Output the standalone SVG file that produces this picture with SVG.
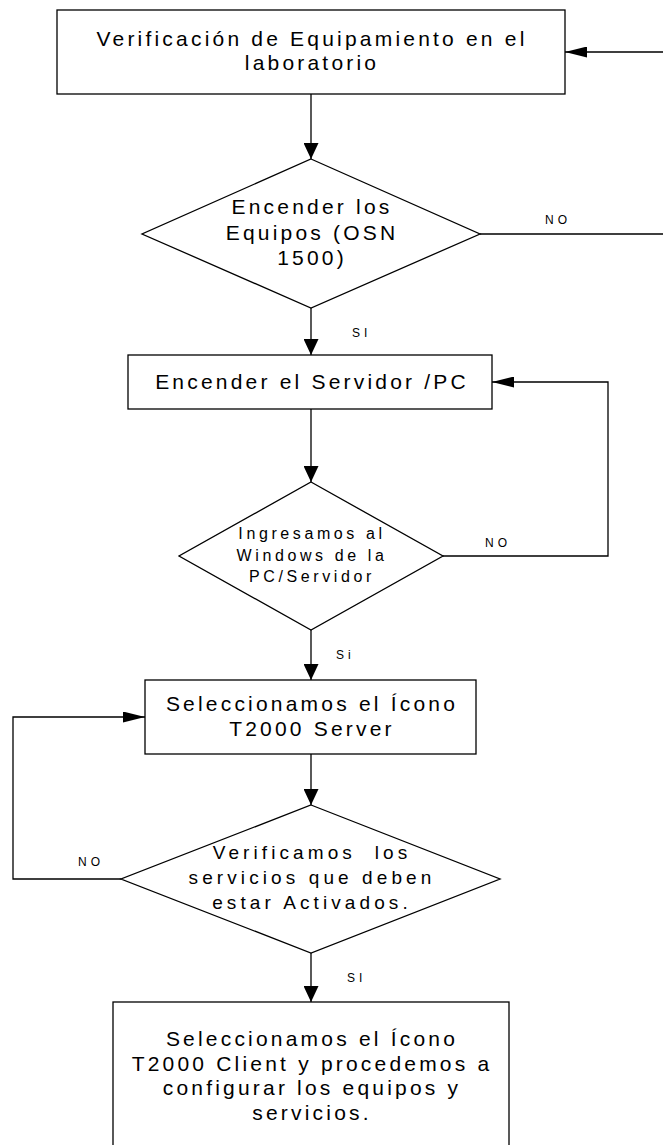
<svg xmlns="http://www.w3.org/2000/svg" width="663" height="1145" viewBox="0 0 663 1145">
  <style>
    .shape { fill: #fff; stroke: #000; stroke-width: 1.3; }
    .conn { fill: none; stroke: #000; stroke-width: 1.3; }
    .t { font-family: "Liberation Sans", Arial, sans-serif; fill: #000; text-anchor: middle; }
    .big { font-size: 21px; letter-spacing: 3.2px; }
    .mid { font-size: 19px; letter-spacing: 4.1px; }
    .sm { font-size: 16px; letter-spacing: 3.6px; }
    .lbl { font-family: "Liberation Sans", Arial, sans-serif; fill: #000; font-size: 12px; letter-spacing: 4px; }
  </style>
  <defs>
    <marker id="av" markerUnits="userSpaceOnUse" markerWidth="16" markerHeight="15" refX="16" refY="7.5" orient="auto">
      <path d="M0,0 L16,7.5 L0,15 z" fill="#000"/>
    </marker>
    <marker id="ah" markerUnits="userSpaceOnUse" markerWidth="22" markerHeight="11" refX="22" refY="5.5" orient="auto">
      <path d="M0,0 L22,5.5 L0,11 z" fill="#000"/>
    </marker>
  </defs>

  <g id="connectors">
    <path class="conn" d="M311,94 V159" marker-end="url(#av)"/>
    <path class="conn" d="M311,308 V355" marker-end="url(#av)"/>
    <path class="conn" d="M311,409 V482" marker-end="url(#av)"/>
    <path class="conn" d="M311,630 V680" marker-end="url(#av)"/>
    <path class="conn" d="M311,754 V805" marker-end="url(#av)"/>
    <path class="conn" d="M311,953 V1002" marker-end="url(#av)"/>
    <path class="conn" d="M480,234 H672 V52 H565" marker-end="url(#ah)"/>
    <path class="conn" d="M443,556 H608 V382 H492" marker-end="url(#ah)"/>
    <path class="conn" d="M121,879 H13 V717 H145" marker-end="url(#ah)"/>
    <text class="lbl" x="545" y="224">NO</text>
    <text class="lbl" x="352" y="337">SI</text>
    <text class="lbl" x="485" y="547">NO</text>
    <text class="lbl" x="336" y="659">Si</text>
    <text class="lbl" x="78" y="866">NO</text>
    <text class="lbl" x="347" y="982">SI</text>
  </g>

  <g id="node-verificacion">
    <rect class="shape" x="57" y="10" width="508" height="84"/>
    <text class="t big" x="312" y="46">Verificación de Equipamiento en el</text>
    <text class="t big" x="312" y="70">laboratorio</text>
  </g>

  <g id="node-encender-equipos">
    <polygon class="shape" points="311,159 480,234 311,308 142,234"/>
    <text class="t big" x="312" y="214">Encender los</text>
    <text class="t big" x="312" y="240">Equipos (OSN</text>
    <text class="t big" x="312" y="265">1500)</text>
  </g>

  <g id="node-encender-servidor">
    <rect class="shape" x="128" y="355" width="364" height="54"/>
    <text class="t big" x="312" y="389">Encender el Servidor /PC</text>
  </g>

  <g id="node-ingresamos">
    <polygon class="shape" points="311,482 443,556 311,630 179,556"/>
    <text class="t sm" x="312" y="539">Ingresamos al</text>
    <text class="t sm" x="312" y="561">Windows de la</text>
    <text class="t sm" x="312" y="582">PC/Servidor</text>
  </g>

  <g id="node-t2000-server">
    <rect class="shape" x="145" y="680" width="331" height="74"/>
    <text class="t big" x="312" y="711">Seleccionamos el Ícono</text>
    <text class="t big" x="312" y="736">T2000 Server</text>
  </g>

  <g id="node-verificamos">
    <polygon class="shape" points="311,805 500,879 311,953 121,879"/>
    <text class="t mid" x="312" y="859" xml:space="preserve" style="white-space:pre">Verificamos  los</text>
    <text class="t mid" x="312" y="884">servicios que deben</text>
    <text class="t mid" x="312" y="909">estar Activados.</text>
  </g>

  <g id="node-t2000-client">
    <rect class="shape" x="113" y="1002" width="396" height="160"/>
    <text class="t big" x="312" y="1046">Seleccionamos el Ícono</text>
    <text class="t big" x="312" y="1071">T2000 Client y procedemos a</text>
    <text class="t big" x="312" y="1095">configurar los equipos y</text>
    <text class="t big" x="312" y="1120">servicios.</text>
  </g>
</svg>
